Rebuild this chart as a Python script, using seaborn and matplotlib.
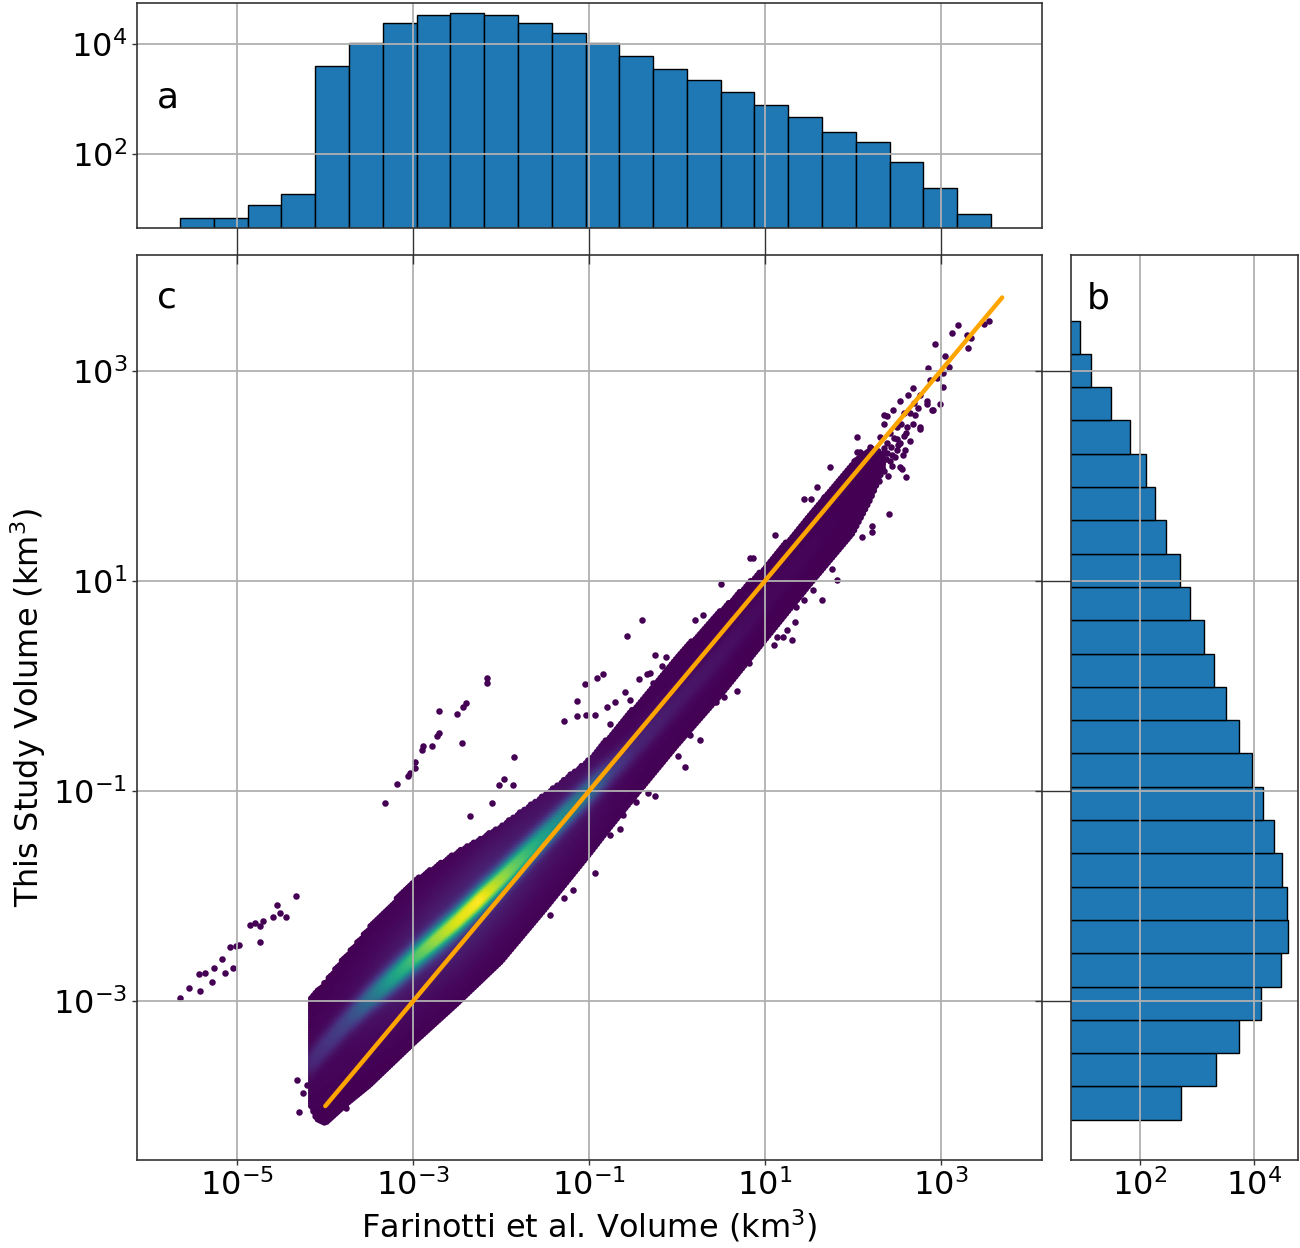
import numpy as np
import pandas as pd
import matplotlib
matplotlib.use('Agg')
import matplotlib.pyplot as plt
from matplotlib.ticker import FixedLocator, NullLocator
import seaborn as sns

sns.set_style('white')
plt.rcParams['font.family'] = ['DejaVu Sans']
plt.rcParams['axes.unicode_minus'] = True
for k in ('text.color', 'axes.labelcolor', 'xtick.color', 'ytick.color'):
    plt.rcParams[k] = 'black'

# ---- marginal histograms (log10 bin range + counts) ----
top_lo, top_hi = -5.653, 3.573          # Farinotti volume, log10 km3
top_counts = [7, 7, 12, 19, 3980, 10500, 24500, 34600, 37000, 33500, 24500, 16300,
              10500, 6200, 3580, 2190, 1350, 790, 480, 255, 163, 71, 24, 8]

right_lo, right_hi = -4.13, 3.48        # this study volume, log10 km3 (bottom -> top)
right_counts = [520, 2180, 5400, 13500, 29500, 39500, 37700, 30400, 22300, 14500,
                9100, 5400, 3220, 1960, 1320, 750, 510, 290, 180, 130, 68, 31, 14, 9]

# ---- main point cloud: envelope of the dense band, read along log10(x) ----
env_logx = [-4.16, -4.10, -4.00, -3.75, -3.50, -3.25, -3.00, -2.75, -2.50, -2.25, -2.00,
            -1.75, -1.50, -1.25, -1.00, -0.75, -0.50, 0.00, 0.50, 1.00, 1.50, 2.00, 2.20, 2.35]
env_low = [-4.00, -4.12, -4.16, -3.97, -3.80, -3.60, -3.40, -3.21, -3.02, -2.82, -2.62,
           -2.37, -2.12, -1.86, -1.60, -1.33, -1.07, -0.56, -0.08, 0.44, 0.96, 1.46, 1.78, 2.08]
env_high = [-2.96, -2.90, -2.82, -2.55, -2.30, -2.08, -1.86, -1.72, -1.58, -1.46, -1.33,
            -1.18, -1.03, -0.87, -0.70, -0.46, -0.22, 0.28, 0.72, 1.13, 1.62, 2.12, 2.27, 2.22]
ridge_off = [0.58, 0.58, 0.58, 0.56, 0.52, 0.46, 0.40, 0.33, 0.26, 0.21, 0.16,
             0.12, 0.08, 0.04, 0.00, -0.05, -0.10, -0.15, -0.20, -0.20, -0.20, -0.20, -0.20, -0.20]
ridge_level = [0.10, 0.12, 0.14, 0.20, 0.35, 0.55, 0.70, 0.85, 0.95, 1.00, 0.85,
               0.70, 0.55, 0.45, 0.36, 0.18, 0.10, 0.06, 0.04, 0.02, 0.01, 0.0, 0.0, 0.0]

# isolated points outside the band (log10 x, log10 y)
out_logx = [-5.65, -5.55, -5.43, -5.44, -5.37, -5.27, -5.29, -5.17, -5.14, -5.05, -5.08, -5.02,
            -4.98, -4.86, -4.80, -4.74, -4.71, -4.74, -4.59, -4.55, -4.52, -4.45, -4.33,
            -4.32, -4.30, -4.25, -4.21, -3.76,
            -3.32, -3.18, -3.06, -3.04, -2.98, -2.98, -2.90, -2.89, -2.79, -2.71, -2.73, -2.71,
            -2.50, -2.45, -2.43, -2.40, -2.16, -2.16,
            -0.57, -0.25, -0.12, -0.17, -0.43, -0.34, -0.27, -0.59, -0.70, -0.53, -0.80, -1.14,
            -1.05, -0.91, -0.84, -0.93, -1.03, -1.28, -1.14, -0.76, -1.85, -1.97, -1.86, -2.02,
            -2.10, -2.35, 0.26, 0.15, 0.04, 0.22, 0.34, 0.01, 0.09, -0.15, -0.25, -0.33, -0.46,
            -0.61, -0.65, -0.76, -0.93, -1.18, -1.29, -1.44, 0.82, 0.68, 0.53, 0.45, 0.79,
            2.05, 2.05, 1.74, 1.59, 1.45, 1.53, 1.67, 1.12, 0.83, 0.87, 0.50, 0.21, 0.30, -0.40,
            -0.04, -0.31, 0.07, 2.56, 2.61, 2.41, 2.22, 2.10, 2.22, 1.91, 1.82, 1.76, 1.62, 1.55,
            1.65, 1.45, 1.36, 1.31, 1.21, 1.14, 1.10, 1.25, 1.34, 2.77, 2.91, 2.84, 2.54, 2.35,
            2.94, 3.13, 3.20, 3.30, 3.35, 3.31, 3.49, 3.55, 3.05, 3.09, 3.03, 2.86, 2.96, 3.03,
            2.88, 2.69, 2.77, 2.63, 2.84, 2.90, 2.99, 2.46, 2.58, 2.69, 2.77, 2.39, 2.35, 2.50,
            2.61, 2.42, 2.54, 2.65, 2.31, 2.39, 2.20, 2.08, 2.27, 2.39, 2.50, 2.01, 2.12, 2.23,
            2.54, 2.42, 2.45, 2.50, 2.35, 2.40, 2.30, 2.45, 2.55, 2.60, 2.65, 2.70,
            2.38, 2.44, 2.48, 2.52, 2.58, 2.62, 2.36, 2.47, 2.57, 2.33, 2.71, 2.74]
out_logy = [-2.97, -2.88, -2.90, -2.74, -2.73, -2.69, -2.82, -2.60, -2.73, -2.69, -2.49, -2.48,
            -2.47, -2.28, -2.26, -2.29, -2.24, -2.44, -2.20, -2.09, -2.16, -2.20, -2.00,
            -3.75, -4.06, -3.88, -3.80, -4.02,
            -1.11, -0.93, -0.86, -0.83, -0.78, -0.72, -0.61, -0.57, -0.57, -0.45, -0.48, -0.24,
            -0.27, -0.54, -0.20, -0.16, 0.08, 0.03,
            0.48, 0.30, 0.28, 0.19, 0.07, 0.11, 0.03, -0.06, -0.15, -0.13, -0.20, -0.14,
            0.02, 0.08, 0.11, -0.28, -0.28, -0.33, -0.29, -0.36, -0.68, -0.89, -0.94, -0.94,
            -1.11, -1.24, -0.51, -0.47, -0.47, -0.31, -0.20, -0.67, -0.77, -0.69, -1.05, -1.02, -1.10,
            -1.23, -1.36, -1.42, -1.78, -1.94, -2.02, -2.18, 0.22, -0.05, -0.10, -0.15, 0.45,
            2.37, 2.23, 2.09, 1.90, 1.78, 1.78, 1.80, 1.44, 1.22, 1.22, 0.97, 0.63, 0.68, 0.63,
            0.03, 0.12, 0.18, 2.07, 1.99, 1.64, 1.52, 1.42, 1.47, 1.43, 1.01, 1.11, 1.10, 0.91,
            0.82, 0.82, 0.75, 0.44, 0.47, 0.47, 0.39, 0.53, 0.61, 2.45, 2.63, 2.69, 2.71, 2.58,
            3.26, 3.36, 3.44, 3.34, 3.31, 3.22, 3.45, 3.48, 3.14, 3.04, 2.98, 3.03, 2.93, 2.85,
            2.91, 2.84, 2.77, 2.77, 2.71, 2.63, 2.69, 2.63, 2.60, 2.50, 2.47, 2.57, 2.50, 2.47,
            2.41, 2.41, 2.31, 2.33, 2.37, 2.31, 2.28, 2.23, 2.18, 2.22, 2.25, 2.14, 2.14, 2.12,
            2.09, 2.14, 2.20, 2.35, 2.05, 2.00, 1.95, 2.10, 2.50, 2.25, 2.60, 2.70,
            2.16, 2.28, 2.18, 2.30, 2.38, 2.47, 2.27, 2.36, 2.20, 2.12, 2.58, 2.65]

one_to_one = [1e-4, 10 ** 3.7]

# ---- build the dense band as a fine lattice coloured by point density ----
step = 0.025
cols = []
for lx in np.arange(env_logx[0], env_logx[-1] + 1e-9, step):
    lo = np.interp(lx, env_logx, env_low)
    hi = np.interp(lx, env_logx, env_high)
    rd = np.interp(lx, env_logx, ridge_off)
    lv = np.interp(lx, env_logx, ridge_level)
    ly = np.arange(lo, hi + 1e-9, step)
    dd = ly - lx - rd
    dens = lv * (0.12 * np.exp(-0.5 * (dd / 0.30) ** 2) + 0.88 * np.exp(-0.5 * (dd / 0.075) ** 2))
    cols.append(pd.DataFrame({'x': 10 ** lx, 'y': 10 ** ly, 'dens': dens}))
band = pd.concat(cols).sort_values('dens')

outliers = pd.DataFrame({'x': 10 ** np.array(out_logx), 'y': 10 ** np.array(out_logy)})

top_edges = np.linspace(top_lo, top_hi, len(top_counts) + 1)
top_df = pd.DataFrame({'vol': 10 ** ((top_edges[:-1] + top_edges[1:]) / 2), 'n': top_counts})
right_edges = np.linspace(right_lo, right_hi, len(right_counts) + 1)
right_df = pd.DataFrame({'vol': 10 ** ((right_edges[:-1] + right_edges[1:]) / 2), 'n': right_counts})

# ---- figure ----
fig = plt.figure(figsize=(13, 12.48), dpi=100)
ax = fig.add_axes([0.1054, 0.0705, 0.6962, 0.7252])
ax_top = fig.add_axes([0.1054, 0.8173, 0.6962, 0.1803])
ax_right = fig.add_axes([0.8238, 0.0705, 0.1746, 0.7252])

purple = plt.cm.viridis(0.0)
sns.scatterplot(data=outliers, x='x', y='y', color=purple, s=22, linewidth=0, ax=ax)
sns.scatterplot(data=band, x='x', y='y', hue='dens', palette='viridis', hue_norm=(0, 1),
                s=22, linewidth=0, legend=False, ax=ax)
sns.lineplot(x=one_to_one, y=one_to_one, color='orange', linewidth=3.2, ax=ax)
ax.set_xscale('log')
ax.set_yscale('log')

sns.histplot(data=top_df, x='vol', weights='n', bins=len(top_counts), binrange=(top_lo, top_hi),
             log_scale=True, color='#1f77b4', alpha=1, edgecolor='black',
             linewidth=1, ax=ax_top)
ax_top.set_yscale('log', nonpositive='clip')
sns.histplot(data=right_df, y='vol', weights='n', bins=len(right_counts),
             binrange=(right_lo, right_hi), log_scale=True, color='#1f77b4', alpha=1,
             edgecolor='black', linewidth=1, ax=ax_right)
ax_right.set_xscale('log', nonpositive='clip')

xlim = (10 ** -6.142, 10 ** 4.154)
ylim = (10 ** -4.514, 10 ** 4.105)
xt = [1e-5, 1e-3, 1e-1, 1e1, 1e3]
yt = [1e-3, 1e-1, 1e1, 1e3]
ct = [1e2, 1e4]

ax.set_xlim(xlim)
ax.set_ylim(ylim)
ax_top.set_xlim(xlim)
ax_top.set_ylim(10 ** 0.655, 10 ** 4.75)
ax_right.set_ylim(ylim)
ax_right.set_xlim(10 ** 0.79, 10 ** 4.77)

ax.xaxis.set_major_locator(FixedLocator(xt))
ax.yaxis.set_major_locator(FixedLocator(yt))
ax_top.xaxis.set_major_locator(FixedLocator(xt))
ax_top.yaxis.set_major_locator(FixedLocator(ct))
ax_right.yaxis.set_major_locator(FixedLocator(yt))
ax_right.xaxis.set_major_locator(FixedLocator(ct))

for a in (ax, ax_top, ax_right):
    a.xaxis.set_minor_locator(NullLocator())
    a.yaxis.set_minor_locator(NullLocator())
    a.set_axisbelow('line')
    a.grid(True, which='major', color='#b0b0b0', linewidth=1.3)
    a.tick_params(labelsize=23, length=3.5, width=1, color='#333333', bottom=True, left=True)
    for s in a.spines.values():
        s.set_visible(True)
        s.set_color('#333333')
        s.set_linewidth(1.2)
    a.set_xlabel('')
    a.set_ylabel('')

ax_top.tick_params(axis='x', labelbottom=False, length=26, direction='out')
ax_right.tick_params(axis='y', labelleft=False, length=26, direction='out')

ax.set_xlabel('Farinotti et al. Volume (km$^3$)', fontsize=23)
ax.set_ylabel('This Study Volume (km$^3$)', fontsize=23)

ax_top.text(0.022, 0.58, 'a', transform=ax_top.transAxes, fontsize=26, va='center')
ax.text(0.022, 0.9525, 'c', transform=ax.transAxes, fontsize=26, va='center')
ax_right.text(0.07, 0.952, 'b', transform=ax_right.transAxes, fontsize=26, va='center')

fig.savefig('out.png', dpi=100)
